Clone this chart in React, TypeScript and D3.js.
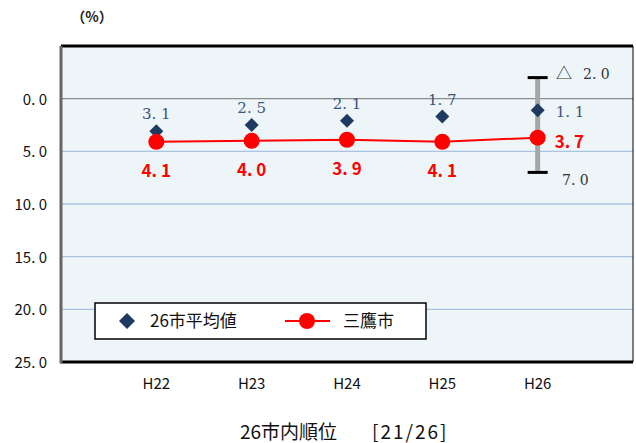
import React from "react";
import * as d3 from "d3";

const categories = ["H22", "H23", "H24", "H25", "H26"];
const avgValues = [3.1, 2.5, 2.1, 1.7, 1.1];
const mitakaValues = [4.1, 4.0, 3.9, 4.1, 3.7];
const yTicks = [0, 5, 10, 15, 20, 25];
const rangeMin = -2.0;
const rangeMax = 7.0;
const seriesNames = ["26市平均値", "三鷹市"];
const rankLabel = "26市内順位";
const rankValue = "[21/26]";

const fmtNum = (v: number) => Math.abs(v).toFixed(1).replace(".", ". ");

export default function App() {
  const W = 636, H = 443;
  const left = 61, right = 633, top = 46, bottom = 362;
  const x = d3.scalePoint<string>().domain(categories).range([left, right]).padding(1);
  const y = d3.scaleLinear().domain([-5, 25]).range([top, bottom]);
  const line = d3.line<number>().x((_, i) => x(categories[i])!).y((d) => y(d));
  const last = categories.length - 1;
  const diamond = (cx: number, cy: number, r: number) =>
    `M${cx},${cy - r}L${cx + r},${cy}L${cx},${cy + r}L${cx - r},${cy}Z`;
  const sans = "'Noto Sans CJK JP', 'DejaVu Sans', sans-serif";
  const serif = "'DejaVu Serif', 'Liberation Serif', serif";
  const blue = "#1F3A60";
  const lblBlue = "#3A5578";
  const xl = x(categories[last])!;
  return (
    <svg width={W} height={H} style={{ position: "absolute", left: 0, top: 0, background: "#fff" }}>
      <text x={92} y={22} fontFamily={sans} fontSize={14} fontWeight="bold" textAnchor="middle" fill="#222">（%）</text>
      <rect x={left} y={top} width={right - left} height={bottom - top} fill="#EDF5F9" />
      {yTicks.map((t) => (
        <g key={t}>
          {t !== 25 && (
            <line x1={left} x2={right} y1={y(t)} y2={y(t)} stroke={t === 0 ? "#8C8C8C" : "#A9C4E0"} strokeWidth={1.3} />
          )}
          <text x={47} y={y(t) + 6} textAnchor="end" fontFamily={sans} fontSize={15} fill="#111">
            {fmtNum(t)}
          </text>
        </g>
      ))}
      <line x1={left} x2={right} y1={top} y2={top} stroke="#000" strokeWidth={3} />
      <line x1={right} x2={right} y1={top} y2={bottom} stroke="#000" strokeWidth={1} />
      <line x1={left} x2={right} y1={bottom} y2={bottom} stroke="#000" strokeWidth={3} />
      <line x1={left} x2={left} y1={top} y2={bottom + 1.5} stroke="#666" strokeWidth={3} />
      {categories.map((c) => (
        <text key={c} x={x(c)} y={389} textAnchor="middle" fontFamily={sans} fontSize={15} fill="#111">{c}</text>
      ))}
      {/* range bar */}
      <line x1={xl} x2={xl} y1={y(rangeMin)} y2={y(rangeMax)} stroke="#A6A6A6" strokeWidth={5} />
      <line x1={xl - 10} x2={xl + 10} y1={y(rangeMin)} y2={y(rangeMin)} stroke="#000" strokeWidth={3} />
      <line x1={xl - 10} x2={xl + 10} y1={y(rangeMax)} y2={y(rangeMax)} stroke="#000" strokeWidth={3} />
      <text x={556} y={y(rangeMin) + 1} fontFamily={sans} fontSize={16} fill="#333">△</text>
      <text x={583} y={y(rangeMin) + 1} fontFamily={serif} fontSize={14} fill="#333">{fmtNum(rangeMin)}</text>
      <text x={562} y={y(rangeMax) + 13} fontFamily={serif} fontSize={14} fill="#333">{fmtNum(rangeMax)}</text>
      {/* mitaka line */}
      <path d={line(mitakaValues)!} fill="none" stroke="#FF0000" strokeWidth={2} />
      {/* averages */}
      {avgValues.map((v, i) => (
        <g key={"a" + i}>
          <path d={diamond(x(categories[i])!, y(v), 7)} fill={blue} />
          {i === last ? (
            <text x={x(categories[i])! + 18} y={y(v) + 7} fontFamily={serif} fontSize={15} fill={lblBlue}>{fmtNum(v)}</text>
          ) : (
            <text x={x(categories[i])} y={y(v) - 12} textAnchor="middle" fontFamily={serif} fontSize={15} fill={lblBlue}>{fmtNum(v)}</text>
          )}
        </g>
      ))}
      {mitakaValues.map((v, i) => (
        <g key={"m" + i}>
          <circle cx={x(categories[i])} cy={y(v)} r={8} fill="#FF0000" />
          {i === last ? (
            <text x={x(categories[i])! + 17} y={y(v) + 10} fontFamily={sans} fontWeight="bold" fontSize={17} fill="#FF0000">{fmtNum(v)}</text>
          ) : (
            <text x={x(categories[i])} y={y(v) + 35} textAnchor="middle" fontFamily={sans} fontWeight="bold" fontSize={17} fill="#FF0000">{fmtNum(v)}</text>
          )}
        </g>
      ))}
      {/* legend */}
      <rect x={95} y={303} width={331} height={36} fill="#fff" stroke="#000" strokeWidth={1.5} />
      <path d={diamond(127, 321, 8)} fill={blue} />
      <text x={150} y={327} fontFamily={sans} fontSize={17} fill="#111">{seriesNames[0]}</text>
      <line x1={285} x2={330} y1={321} y2={321} stroke="#FF0000" strokeWidth={2} />
      <circle cx={307} cy={321} r={8} fill="#FF0000" />
      <text x={343} y={327} fontFamily={sans} fontSize={17} fill="#111">{seriesNames[1]}</text>
      <text x={240} y={439} fontFamily={sans} fontSize={19} fill="#111">{rankLabel}</text>
      <text x={372} y={439} fontFamily={sans} fontSize={19} fill="#111" letterSpacing={2}>{rankValue}</text>
    </svg>
  );
}
